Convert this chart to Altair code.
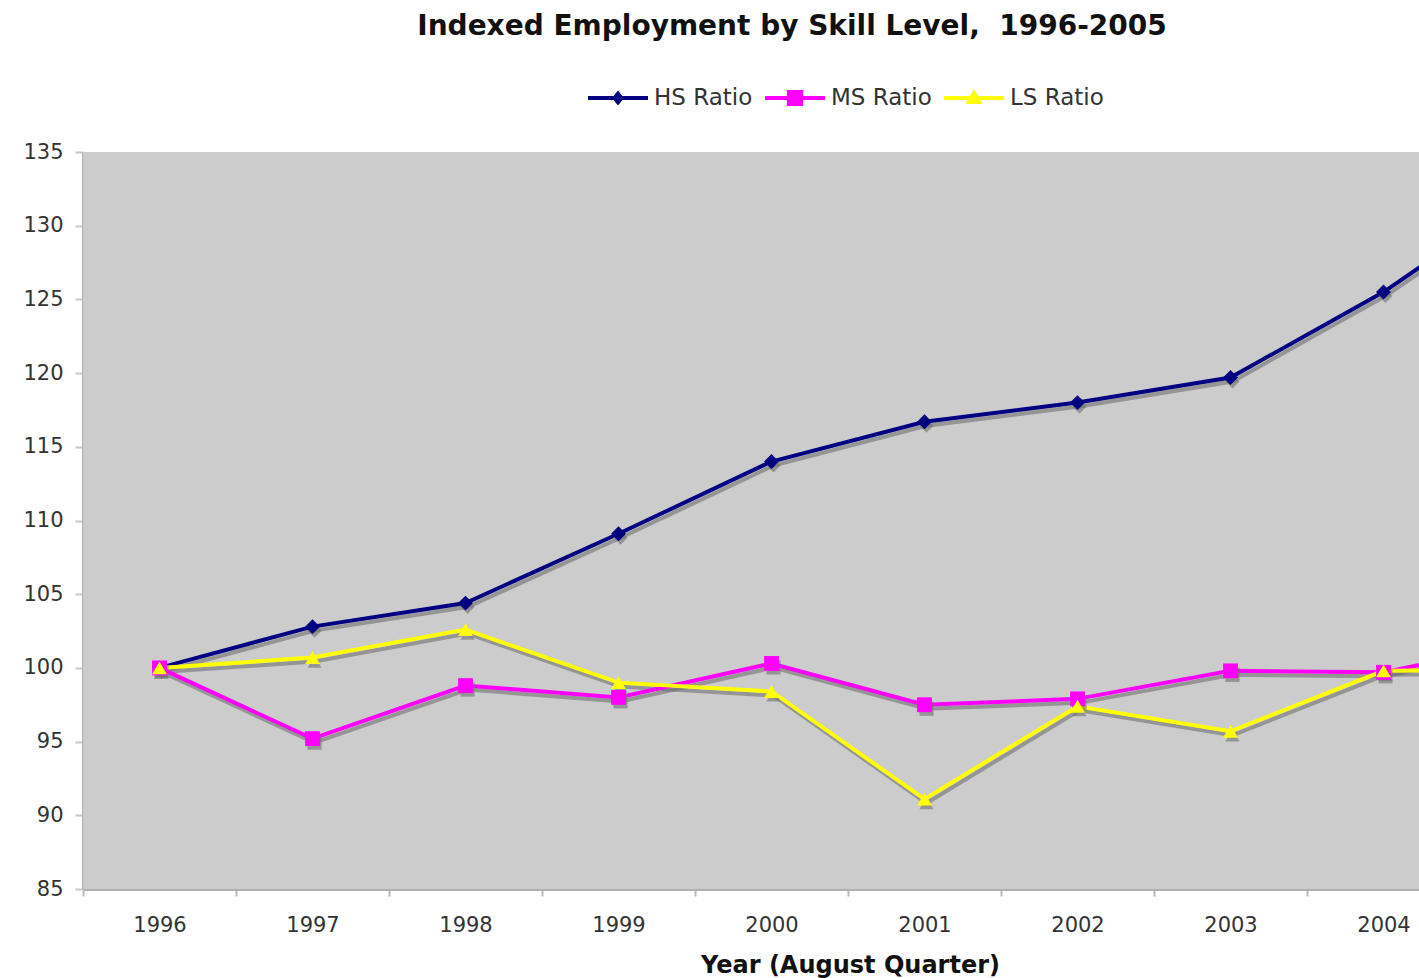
import altair as alt
import pandas as pd

years = [1996, 1997, 1998, 1999, 2000, 2001, 2002, 2003, 2004, 2005]
hs_ratio = [100.0, 102.8, 104.4, 109.1, 114.0, 116.7, 118.0, 119.7, 125.5, 132.6]
ms_ratio = [100.0, 95.2, 98.8, 98.0, 100.3, 97.5, 97.9, 99.8, 99.7, 101.8]
ls_ratio = [100.0, 100.7, 102.6, 99.0, 98.4, 91.1, 97.4, 95.7, 99.8, 99.9]
series_names = ["HS Ratio", "MS Ratio", "LS Ratio"]
series_colors = ["#000080", "#FF00FF", "#FFFF00"]
y_ticks = [85, 90, 95, 100, 105, 110, 115, 120, 125, 130, 135]

rows = []
for name, vals in zip(series_names, [hs_ratio, ms_ratio, ls_ratio]):
    for yr, v in zip(years, vals):
        rows.append({"year": yr, "value": v, "series": name})
df = pd.DataFrame(rows)

FONT = "DejaVu Sans"
x_domain = [1995.5, 1995.5 + 1336 / 153.0]
x_vals = [1995.5 + 0.5 * i for i in range(0, 20)]

x_enc = alt.X(
    "year:Q",
    scale=alt.Scale(domain=x_domain, nice=False, zero=False),
    axis=alt.Axis(
        values=x_vals,
        labelExpr="datum.value % 1 == 0 ? format(datum.value, 'd') : ''",
        tickColor={"condition": {"test": "datum.value % 1 == 0", "value": "transparent"}, "value": "#b8b8b8"},
        tickSize=7,
        tickWidth=2,
        domainColor="#b0b0b0",
        domainWidth=3,
        grid=False,
        labelFontSize=21,
        labelColor="#333333",
        labelPadding=18,
        labelFont=FONT,
        labelOverlap=False,
        title="Year (August Quarter)",
        titleFont=FONT,
        titleFontSize=24,
        titleFontWeight="bold",
        titleColor="#111111",
        titlePadding=18,
        titleX=767,
        titleAlign="center",
        titleAnchor="start",
    ),
)
y_enc = alt.Y(
    "value:Q",
    scale=alt.Scale(domain=[85, 135], nice=False, zero=False),
    axis=alt.Axis(
        values=y_ticks,
        tickSize=8,
        tickWidth=2,
        tickColor="#c8c8c8",
        domainColor="#b0b0b0",
        domainWidth=3,
        grid=False,
        labelFontSize=21,
        labelColor="#333333",
        labelPadding=12,
        labelFont=FONT,
        title=None,
    ),
)
color_scale = alt.Scale(domain=series_names, range=series_colors)
shape_scale = alt.Scale(domain=series_names, range=["diamond", "square", "triangle-up"])

base = alt.Chart(df)

backdrop = alt.Chart(pd.DataFrame({"k": [0]})).mark_rect(color="#CCCCCC").encode(
    x=alt.value(0), x2=alt.value(1336), y=alt.value(0), y2=alt.value(737)
)

shadow_line = base.mark_line(strokeWidth=4, color="#707070", opacity=0.6, clip=True, xOffset=2, yOffset=4).encode(
    x=x_enc, y=y_enc, detail="series:N"
)
lines = base.mark_line(strokeWidth=4, clip=True).encode(
    x=x_enc, y=y_enc,
    color=alt.Color("series:N", scale=color_scale, legend=None),
)
shadow_pts = base.mark_point(filled=True, color="#707070", opacity=0.6, size=200, clip=True, xOffset=2, yOffset=4).encode(
    x=x_enc, y=y_enc,
    shape=alt.Shape("series:N", scale=shape_scale, legend=None),
)
pts = base.mark_point(filled=True, opacity=1, size=220, clip=True).encode(
    x=x_enc, y=y_enc,
    color=alt.Color("series:N", scale=color_scale, legend=None),
    shape=alt.Shape("series:N", scale=shape_scale, legend=None),
)

legend_paths = [
    "M-1,-0.067H1V0.067H-1Z M-0.2,0L0,-0.25L0.2,0L0,0.25Z",
    "M-1,-0.067H1V0.067H-1Z M-0.27,-0.27H0.27V0.27H-0.27Z",
    "M-1,-0.067H1V0.067H-1Z M-0.28,0.2L0,-0.3L0.28,0.2Z",
]
legend_cfg = dict(
    title=None,
    orient="none",
    direction="horizontal",
    legendX=505,
    legendY=-84,
    symbolSize=3600,
    symbolStrokeWidth=0,
    symbolOpacity=1,
    labelFontSize=23,
    labelFont=FONT,
    labelColor="#333333",
    labelOffset=6,
    columnPadding=12,
)
legend_layer = base.transform_filter("false").mark_point(filled=True, opacity=1).encode(
    color=alt.Color(
        "series:N",
        scale=alt.Scale(domain=series_names, range=series_colors),
        legend=alt.Legend(**legend_cfg),
    ),
    shape=alt.Shape(
        "series:N",
        scale=alt.Scale(domain=series_names, range=legend_paths),
        legend=alt.Legend(**legend_cfg),
    ),
)

chart = (
    alt.layer(backdrop, shadow_line, lines, shadow_pts, pts, legend_layer)
    .resolve_scale(shape="independent", color="independent")
    .properties(
        width=1336,
        height=737,
        autosize=alt.AutoSizeParams(type="none"),
        padding={"left": 83, "top": 152, "right": 0, "bottom": 89},
        title=alt.TitleParams(
            "Indexed Employment by Skill Level,\u00a0 1996-2005",
            font=FONT,
            fontSize=28,
            fontWeight="bold",
            color="#111111",
            anchor="middle",
            dx=41,
            offset=5,
            baseline="alphabetic",
        ),
        background="white",
    )
    .configure_view(stroke="transparent")
)

chart.save("out.html", embed_options={"renderer": "svg", "actions": False})
